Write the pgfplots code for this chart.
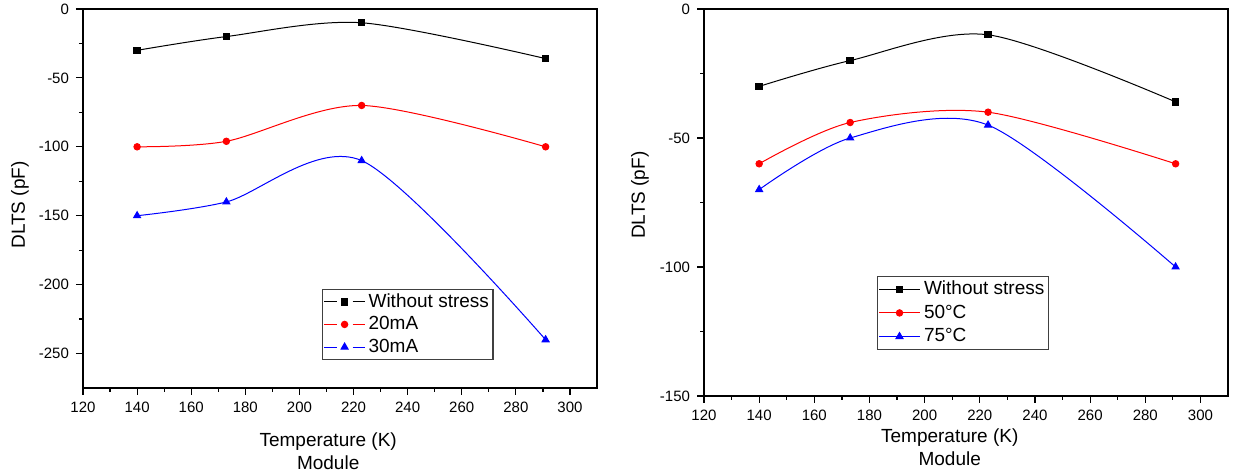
\documentclass[border=0pt]{standalone}
\usepackage{pgfplots}
\pgfplotsset{compat=1.18}
\usepackage{fontspec}
\setmainfont{Liberation Sans}

\pgfplotsset{
  myaxis/.style={
    scale only axis,
    xmin=120, xmax=310, xtick={120,140,...,300}, minor x tick num=1,
    tick align=outside, xtick pos=bottom, ytick pos=left,
    major tick length=3.5pt, minor tick length=2pt,
    every tick/.style={black, line width=0.6pt},
    axis line style={line width=0.8pt},
    /pgf/number format/assume math mode=true,
    tick label style={font=\fontsize{7.5}{8}\selectfont},
    label style={font=\fontsize{9.5}{11.5}\selectfont},
    xlabel={Temperature (K)\\Module},
    xlabel style={align=center, anchor=north, inner sep=0pt},
    ylabel={DLTS (pF)},
    ylabel style={anchor=center, inner sep=0pt},
    legend cell align=left,
    legend style={font=\fontsize{9.5}{11}\selectfont, draw=black!75, line width=0.6pt, anchor=south west, inner sep=0.5pt, row sep=0pt},
    every axis plot/.append style={smooth, line width=0.5pt},
  }
}

\begin{document}
\begin{tikzpicture}
\useasboundingbox (0,0) rectangle (618pt,237.5pt);

\begin{axis}[myaxis,
  at={(41.5pt,233pt)}, anchor=north west,
  width=257pt, height=189.5pt,
  ymin=-275, ymax=0, ytick={-250,-200,...,0}, minor y tick num=1,
  xlabel style={at={(axis description cs:0.477,-0.116)}},
  ylabel style={at={(axis description cs:-0.1226,0.483)}},
  legend style={at={(rel axis cs:0.465,0.074)}, nodes={inner sep=1.5pt, text height=6.8pt, text depth=1.5pt}},
  legend image code/.code={
    \draw[#1] (0cm,0cm) -- (0.22cm,0cm);
    \draw[#1] (0.50cm,0cm) -- (0.72cm,0cm);
    \draw[#1, only marks] plot coordinates {(0.36cm,0cm)};
  },
]
\addplot[black, mark=square*, mark size=1.6pt] coordinates {(140,-30)(173,-20)(223,-10)(291,-36)};
\addlegendentry{Without stress}
\addplot[red, mark=*, mark size=1.6pt] coordinates {(140,-100)(173,-96)(223,-70)(291,-100)};
\addlegendentry{20mA}
\addplot[blue, mark=triangle*, mark size=2pt] coordinates {(140,-150)(173,-140)(223,-110)(291,-240)};
\addlegendentry{30mA}
\end{axis}

\begin{axis}[myaxis,
  at={(352pt,233pt)}, anchor=north west,
  width=262pt, height=193.5pt,
  ymin=-150, ymax=0, ytick={-150,-100,-50,0}, minor y tick num=1,
  xlabel style={at={(axis description cs:0.469,-0.0827)}},
  ylabel style={at={(axis description cs:-0.1221,0.519)}},
  legend style={at={(rel axis cs:0.330,0.119)}, nodes={inner sep=1.75pt, text height=6.8pt, text depth=1.5pt}},
  legend image code/.code={
    \draw[mark repeat=2, mark phase=2, #1] plot coordinates {(0cm,0cm)(0.36cm,0cm)(0.72cm,0cm)};
  },
]
\addplot[black, mark=square*, mark size=1.6pt] coordinates {(140,-30)(173,-20)(223,-10)(291,-36)};
\addlegendentry{Without stress}
\addplot[red, mark=*, mark size=1.6pt] coordinates {(140,-60)(173,-44)(223,-40)(291,-60)};
\addlegendentry{50°C}
\addplot[blue, mark=triangle*, mark size=2pt] coordinates {(140,-70)(173,-50)(223,-45)(291,-100)};
\addlegendentry{75°C}
\end{axis}
\end{tikzpicture}
\end{document}
